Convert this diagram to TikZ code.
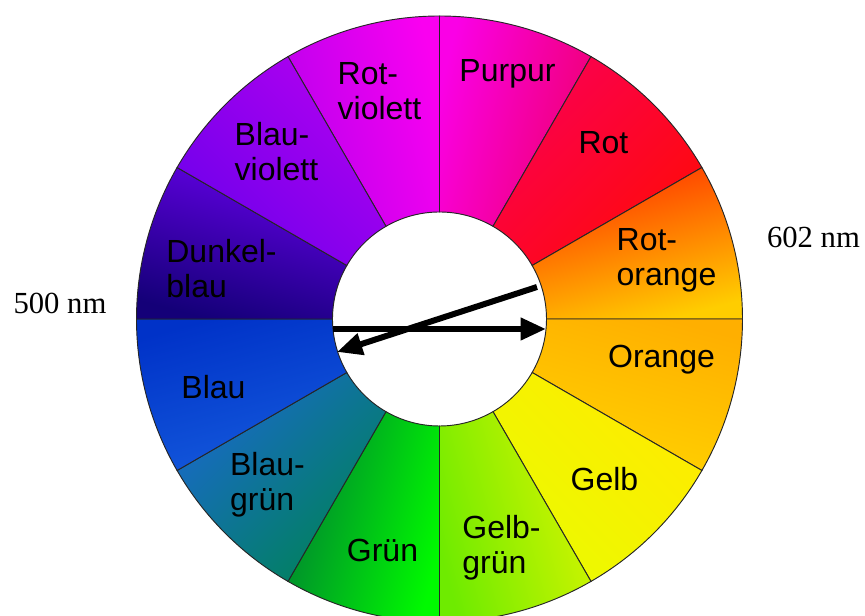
\documentclass[tikz,border=0pt]{standalone}
\usepackage{fontspec}
\setmainfont{Liberation Serif}
\setsansfont{Liberation Sans}
\usetikzlibrary{arrows.meta}

% colours at the two ends of each wedge (ccw end / cw end)
\definecolor{rva}{RGB}{185,0,238}
\definecolor{rvb}{RGB}{250,0,240}
\definecolor{ppa}{RGB}{250,0,230}
\definecolor{ppb}{RGB}{240,0,110}
\definecolor{rta}{RGB}{250,0,80}
\definecolor{rtb}{RGB}{255,10,10}
\definecolor{roa}{RGB}{255,50,0}
\definecolor{rob}{RGB}{255,205,0}
\definecolor{ora}{RGB}{255,175,0}
\definecolor{orb}{RGB}{255,210,0}
\definecolor{gba}{RGB}{255,235,0}
\definecolor{gbb}{RGB}{235,250,0}
\definecolor{gga}{RGB}{215,245,0}
\definecolor{ggb}{RGB}{110,235,0}
\definecolor{gra}{RGB}{0,250,0}
\definecolor{grb}{RGB}{0,130,50}
\definecolor{bga}{RGB}{0,130,90}
\definecolor{bgb}{RGB}{25,105,200}
\definecolor{bla}{RGB}{20,90,220}
\definecolor{blb}{RGB}{0,50,200}
\definecolor{dba}{RGB}{20,0,120}
\definecolor{dbb}{RGB}{100,0,230}
\definecolor{bva}{RGB}{110,0,235}
\definecolor{bvb}{RGB}{175,0,240}

\begin{document}
\begin{tikzpicture}[
    x=0.75pt, y=0.75pt,
    lbl/.style={font=\sffamily\fontsize{24}{26.25}\selectfont, align=left, text=black, inner sep=0pt},
    nm/.style={font=\fontsize{23}{26}\selectfont, inner sep=0pt},
    wedge/.style={draw=black!85, line width=0.7pt},
    arrow/.style={-{Triangle[length=19pt, width=16pt]}, line width=4.5pt}
  ]
  \useasboundingbox (-439.5,-297) rectangle (425.5,319);

  % colour wheel
  \foreach \a/\ca/\cb [evaluate=\a as \m using \a+15] in
      {90/rva/rvb, 60/ppa/ppb, 30/rta/rtb, 0/roa/rob, -30/ora/orb, -60/gba/gbb,
       -90/gga/ggb, -120/gra/grb, -150/bga/bgb, -180/bla/blb, 150/dba/dbb, 120/bva/bvb}
    \draw[wedge, top color=\ca, bottom color=\cb, shading angle=\m]
      (\a:303) arc[start angle=\a, end angle=\a+30, radius=303]
      -- (\a+30:107) arc[start angle=\a+30, end angle=\a, radius=107] -- cycle;

  % wedge labels
  \node[lbl] (purpur) at (68,245) {Purpur};
  \node[lbl] (rot) at (164,176) {Rot};
  \node[lbl] (rotor) at (227,59) {Rot-\\orange};
  \node[lbl] (orange) at (222,-41) {Orange};
  \node[lbl] (gelb) at (165,-160) {Gelb};
  \node[lbl] (gelbgr) at (62,-229) {Gelb-\\grün};
  \node[lbl] (gruen) at (-57,-231) {Grün};
  \node[lbl] (blaugr) at (-172,-166) {Blau-\\grün};
  \node[lbl] (blau) at (-226,-68) {Blau};
  \node[lbl] (dunkel) at (-218,50) {Dunkel-\\blau};
  \node[lbl] (blauvi) at (-163,167) {Blau-\\violett};
  \node[lbl] (rotvi) at (-60,228) {Rot-\\violett};

  % wavelengths
  \node[nm] (nmr) at (374,81.5) {602 nm};
  \node[nm] (nml) at (-379.5,16) {500 nm};

  % arrows in the hole
  \coordinate (hl) at (-106.5,-10);
  \coordinate (hr) at (106.5,-10);
  \coordinate (sa) at (97.5,32);
  \coordinate (sb) at (-102.5,-33);
  \draw[arrow] (hl) -- (hr);
  \draw[arrow] (sa) -- (sb);
\end{tikzpicture}
\end{document}
